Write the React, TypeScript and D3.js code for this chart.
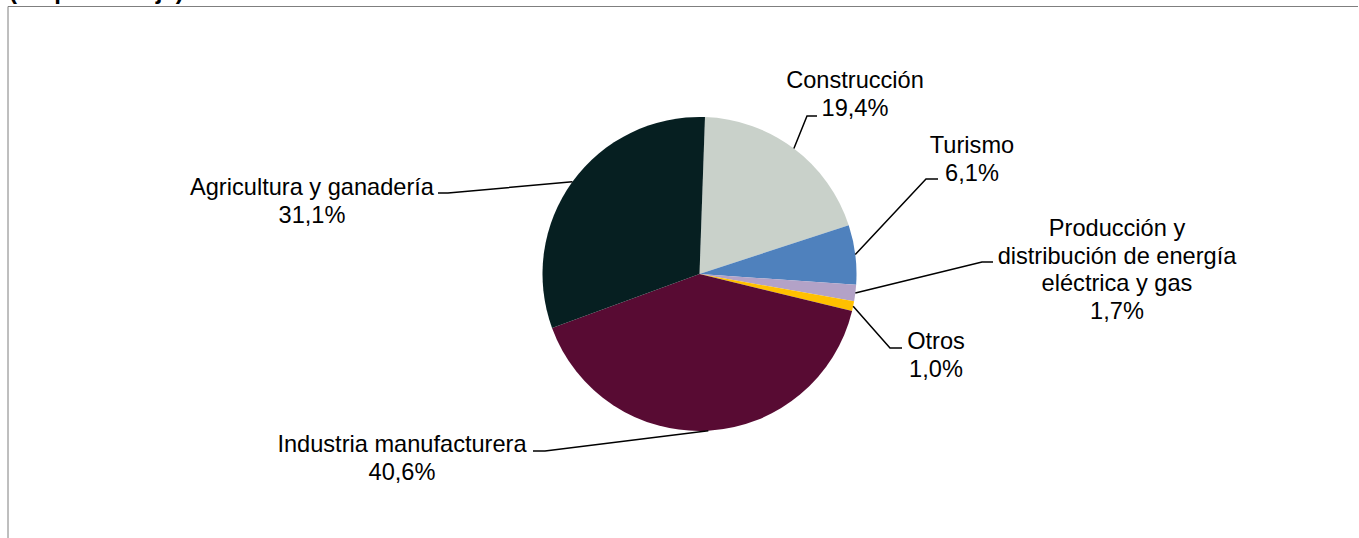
import React from "react";
import * as d3 from "d3";

// datos del gráfico (porcentajes)
const categories = [
  "Construcción",
  "Turismo",
  "Producción y distribución de energía eléctrica y gas",
  "Otros",
  "Industria manufacturera",
  "Agricultura y ganadería",
];
const values = [19.4, 6.1, 1.7, 1.0, 40.6, 31.1];
const valueLabels = ["19,4%", "6,1%", "1,7%", "1,0%", "40,6%", "31,1%"];
const labelLines = [
  ["Construcción"],
  ["Turismo"],
  ["Producción y", "distribución de energía", "eléctrica y gas"],
  ["Otros"],
  ["Industria manufacturera"],
  ["Agricultura y ganadería"],
];
const colors = ["#c9d1ca", "#4f81bd", "#b3a2c7", "#ffc000", "#580b33", "#061f21"];

// posición de las etiquetas y los codos de las líneas guía
const labelLayout = [
  { cx: 855, y0: 88, elbow: [807, 116], end: [817, 116] },
  { cx: 972, y0: 153, elbow: [926, 179], end: [938, 179] },
  { cx: 1117, y0: 236, elbow: [982, 262], end: [993, 262] },
  { cx: 936, y0: 349, elbow: [890, 348], end: [902, 348] },
  { cx: 402, y0: 452, elbow: [545, 451], end: [533, 451] },
  { cx: 312, y0: 195, elbow: [448, 193], end: [438, 193] },
];

const W = 1359;
const H = 538;
const cx = 699.5;
const cy = 274;
const r = 157;
const lineH = 27.6;
const font = "'Liberation Sans', Arial, sans-serif";

const App = () => {
  const start = (2 * Math.PI) / 180;
  const pie = d3
    .pie<number>()
    .sort(null)
    .startAngle(start)
    .endAngle(start + 2 * Math.PI)
    .value((d) => d);
  const arcs = pie(values);
  const arc = d3.arc<d3.PieArcDatum<number>>().innerRadius(0).outerRadius(r);
  const edge = d3.arc<d3.PieArcDatum<number>>().innerRadius(r).outerRadius(r);

  return (
    <svg
      width={W}
      height={H}
      style={{ position: "absolute", left: 0, top: 0, display: "block" }}
      fontFamily={font}
    >
      <rect width={W} height={H} fill="#fff" />
      <text x={9} y={-1} fontSize={24} fontWeight="bold" fill="#000">
        (En porcentaje)
      </text>
      <path d={`M8,538V6.5H1358`} fill="none" stroke="#7f7f7f" strokeWidth={1} />

      <g transform={`translate(${cx},${cy})`}>
        {arcs.map((a, i) => (
          <path key={categories[i]} d={arc(a) || ""} fill={colors[i]} />
        ))}
      </g>

      {arcs.map((a, i) => {
        const [ex, ey] = edge.centroid(a);
        const L = labelLayout[i];
        const lines = [...labelLines[i], valueLabels[i]];
        return (
          <g key={"lab" + i}>
            <polyline
              points={`${cx + ex},${cy + ey} ${L.elbow[0]},${L.elbow[1]} ${L.end[0]},${L.end[1]}`}
              fill="none"
              stroke="#000"
              strokeWidth={1.5}
            />
            <text fontSize={23.6} fill="#000" textAnchor="middle">
              {lines.map((t, j) => (
                <tspan key={j} x={L.cx} y={L.y0 + j * lineH}>
                  {t}
                </tspan>
              ))}
            </text>
          </g>
        );
      })}
    </svg>
  );
};

export default App;
